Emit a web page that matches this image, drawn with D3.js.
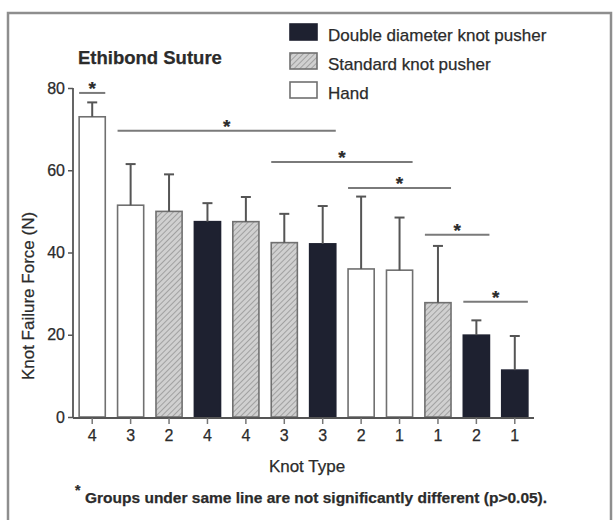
<!DOCTYPE html>
<html>
<head>
<meta charset="utf-8">
<script src="https://cdn.jsdelivr.net/npm/d3@7"></script>
<style>
  html, body { margin: 0; padding: 0; background: #fff; }
  svg { display: block; }
  text { font-family: "Liberation Sans", Arial, sans-serif; fill: #2b2b2b; stroke: #2b2b2b; stroke-width: 0.25px; }
</style>
</head>
<body>
<svg id="chart" width="615" height="520"></svg>
<script>
// ---- data ----
const knotTypes = ["4", "3", "2", "4", "4", "3", "3", "2", "1", "1", "2", "1"];
const methods   = ["Hand", "Hand", "Standard", "Double", "Standard", "Standard", "Double", "Hand", "Hand", "Standard", "Double", "Double"];
const means     = [73, 51.5, 50, 47.5, 47.5, 42.4, 42.1, 36, 35.7, 27.8, 19.9, 11.4];
const sds       = [3.5, 10, 9, 4.5, 6, 7, 9.2, 17.6, 12.8, 13.8, 3.6, 8.3];
const yTicks    = [0, 20, 40, 60, 80];
// groups not significantly different: [first bar index, last bar index, line level (N)]
const groupStart = [0, 1, 5, 7, 9, 10];
const groupEnd   = [0, 6, 8, 9, 10, 11];
const groupLevel = [78.8, 69.6, 62, 55.7, 44.3, 28];
const legendKeys  = ["Double", "Standard", "Hand"];
const legendNames = ["Double diameter knot pusher", "Standard knot pusher", "Hand"];

const svg = d3.select("#chart");

// hatch pattern
const defs = svg.append("defs");
const pat = defs.append("pattern").attr("id", "hatch")
  .attr("patternUnits", "userSpaceOnUse").attr("width", 4).attr("height", 4)
  .attr("patternTransform", "rotate(45)");
pat.append("rect").attr("width", 4).attr("height", 4).attr("fill", "#d0d0d0");
pat.append("line").attr("x1", 0).attr("y1", 0).attr("x2", 0).attr("y2", 4)
  .attr("stroke", "#959595").attr("stroke-width", 1.6);

const fillFor = m => m === "Double" ? "#1e2130" : (m === "Standard" ? "url(#hatch)" : "#ffffff");
const strokeFor = m => m === "Double" ? "#1e2130" : "#707070";

// frame
svg.append("rect").attr("x", 8).attr("y", 13).attr("width", 603).attr("height", 520)
  .attr("fill", "none").attr("stroke", "#8e8e8e").attr("stroke-width", 2.5);

const idx = d3.range(means.length);
const x = d3.scaleBand().domain(idx).range([73, 534]).paddingInner(0.32).paddingOuter(0.16);
const y = d3.scaleLinear().domain([0, 80]).range([417, 88]);

// bars
svg.append("g").selectAll("rect").data(idx).join("rect")
  .attr("x", i => x(i)).attr("width", x.bandwidth())
  .attr("y", i => y(means[i])).attr("height", i => y(0) - y(means[i]))
  .attr("fill", i => fillFor(methods[i]))
  .attr("stroke", i => strokeFor(methods[i])).attr("stroke-width", 1.6);

// error bars
const eb = svg.append("g").attr("stroke", "#555").attr("stroke-width", 2);
eb.selectAll("line.v").data(idx).join("line").attr("class", "v")
  .attr("x1", i => x(i) + x.bandwidth() / 2).attr("x2", i => x(i) + x.bandwidth() / 2)
  .attr("y1", i => y(means[i])).attr("y2", i => y(means[i] + sds[i]));
eb.selectAll("line.c").data(idx).join("line").attr("class", "c")
  .attr("x1", i => x(i) + x.bandwidth() / 2 - 5).attr("x2", i => x(i) + x.bandwidth() / 2 + 5)
  .attr("y1", i => y(means[i] + sds[i])).attr("y2", i => y(means[i] + sds[i]));

// y axis
const yAxis = svg.append("g").attr("transform", "translate(73,0)")
  .call(d3.axisLeft(y).tickValues(yTicks).tickSize(5).tickPadding(3));
yAxis.select(".domain").attr("stroke", "#555").attr("stroke-width", 1.8).attr("d", `M0,${y(80)}V${y(0)+1}`);
yAxis.selectAll(".tick line").attr("stroke", "#555").attr("stroke-width", 1.5);
yAxis.selectAll(".tick text").style("font-size", "16px").attr("fill", "#333")
  .style("font-family", '"Liberation Sans", Arial, sans-serif');

// x axis
const xAxis = svg.append("g").attr("transform", "translate(0,418)")
  .call(d3.axisBottom(x).tickFormat(i => knotTypes[i]).tickSize(6).tickPadding(6));
xAxis.select(".domain").attr("stroke", "#555").attr("stroke-width", 1.8).attr("d", "M73,0H534");
xAxis.selectAll(".tick line").attr("stroke", "#777").attr("stroke-width", 1.5);
xAxis.selectAll(".tick text").style("font-size", "16px").attr("fill", "#333")
  .style("font-family", '"Liberation Sans", Arial, sans-serif');

// significance lines
const sg = svg.append("g");
groupStart.forEach((s, k) => {
  const x1 = x(s), x2 = x(groupEnd[k]) + x.bandwidth(), yy = y(groupLevel[k]);
  sg.append("line").attr("x1", x1).attr("x2", x2).attr("y1", yy).attr("y2", yy)
    .attr("stroke", "#7a7a7a").attr("stroke-width", 2);
  sg.append("text").attr("x", (x1 + x2) / 2).attr("y", yy + 2).attr("text-anchor", "middle")
    .style("font-size", "19px").style("font-weight", "bold").attr("fill", "#555").text("*");
});

// axis titles
svg.append("text").attr("transform", "translate(34,296) rotate(-90)").attr("text-anchor", "middle")
  .style("font-size", "17px").text("Knot Failure Force (N)");
svg.append("text").attr("x", 307).attr("y", 472).attr("text-anchor", "middle")
  .style("font-size", "17px").text("Knot Type");

// chart title
svg.append("text").attr("x", 78).attr("y", 64).style("font-size", "18.5px").style("font-weight", "bold").text("Ethibond Suture");

// legend
legendKeys.forEach((k, j) => {
  const yy = 24 + j * 29;
  svg.append("rect").attr("x", 290).attr("y", yy).attr("width", 27).attr("height", 16)
    .attr("fill", fillFor(k)).attr("stroke", strokeFor(k)).attr("stroke-width", 1.6);
  svg.append("text").attr("x", 328).attr("y", yy + 17).style("font-size", "17px").text(legendNames[j]);
});

// footnote
svg.append("text").attr("x", 75).attr("y", 495).style("font-size", "14px").style("font-weight", "bold").text("*");
svg.append("text").attr("x", 85).attr("y", 503).style("font-size", "15.5px").style("font-weight", "bold")
  .text("Groups under same line are not significantly different (p>0.05).");
</script>
</body>
</html>
